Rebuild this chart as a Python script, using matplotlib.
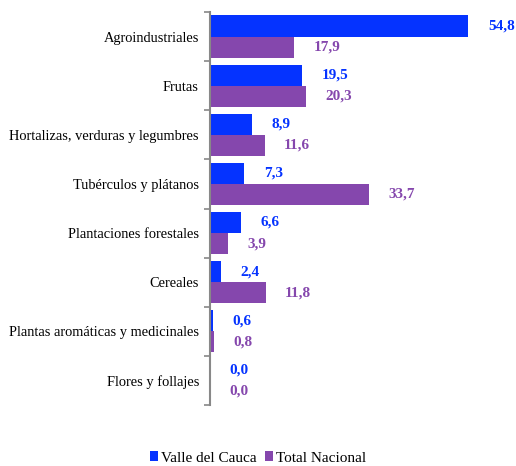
import matplotlib.pyplot as plt
import numpy as np

categories = ['Agroindustriales', 'Frutas', 'Hortalizas, verduras y legumbres',
              'Tubérculos y plátanos', 'Plantaciones forestales', 'Cereales',
              'Plantas aromáticas y medicinales', 'Flores y follajes']
valle = [54.8, 19.5, 8.9, 7.3, 6.6, 2.4, 0.6, 0.0]
nacional = [17.9, 20.3, 11.6, 33.7, 3.9, 11.8, 0.8, 0.0]
series_names = ['Valle del Cauca', 'Total Nacional']

BLUE = '#0533ff'
PURPLE = '#8547ad'
FONT = 'Liberation Serif'

fig = plt.figure(figsize=(5.16, 4.66), dpi=100)
ax = fig.add_axes([210 / 516, 1 - 405 / 466, 283 / 516, 393 / 466])

y = np.arange(len(categories))
h = 0.43
b1 = ax.barh(y - h / 2, valle, height=h, color=BLUE, label=series_names[0])
b2 = ax.barh(y + h / 2, nacional, height=h, color=PURPLE, label=series_names[1])

for bars, vals, col in ((b1, valle, BLUE), (b2, nacional, PURPLE)):
    for bar, v in zip(bars, vals):
        ax.annotate(f'{v:.1f}'.replace('.', ','),
                    xy=(v, bar.get_y() + bar.get_height() / 2),
                    xytext=(14, 0), textcoords='offset points',
                    va='center', ha='left', color=col, fontweight='bold',
                    fontsize=11, family=FONT)

ax.set_xlim(0, 60)
ax.set_ylim(len(categories) - 0.5, -0.5)
ax.set_yticks(y)
ax.set_yticklabels(categories, family=FONT, fontsize=10.4)
ax.set_yticks(np.arange(len(categories) + 1) - 0.5, minor=True)
ax.tick_params(axis='y', which='major', length=0, pad=8)
ax.tick_params(axis='y', which='minor', length=4, color='#888888', width=1.2)
ax.set_xticks([])
for s in ('top', 'right', 'bottom'):
    ax.spines[s].set_visible(False)
ax.spines['left'].set_color('#888888')
ax.spines['left'].set_linewidth(1.5)

fig.legend(handles=[b1, b2], loc='center', bbox_to_anchor=(0.5, 1 - 458 / 466),
           ncol=2, frameon=False, prop={'family': FONT, 'size': 11},
           handlelength=0.55, handleheight=0.55, handletextpad=0.2, columnspacing=0.5)

fig.savefig('out.png', dpi=100)
